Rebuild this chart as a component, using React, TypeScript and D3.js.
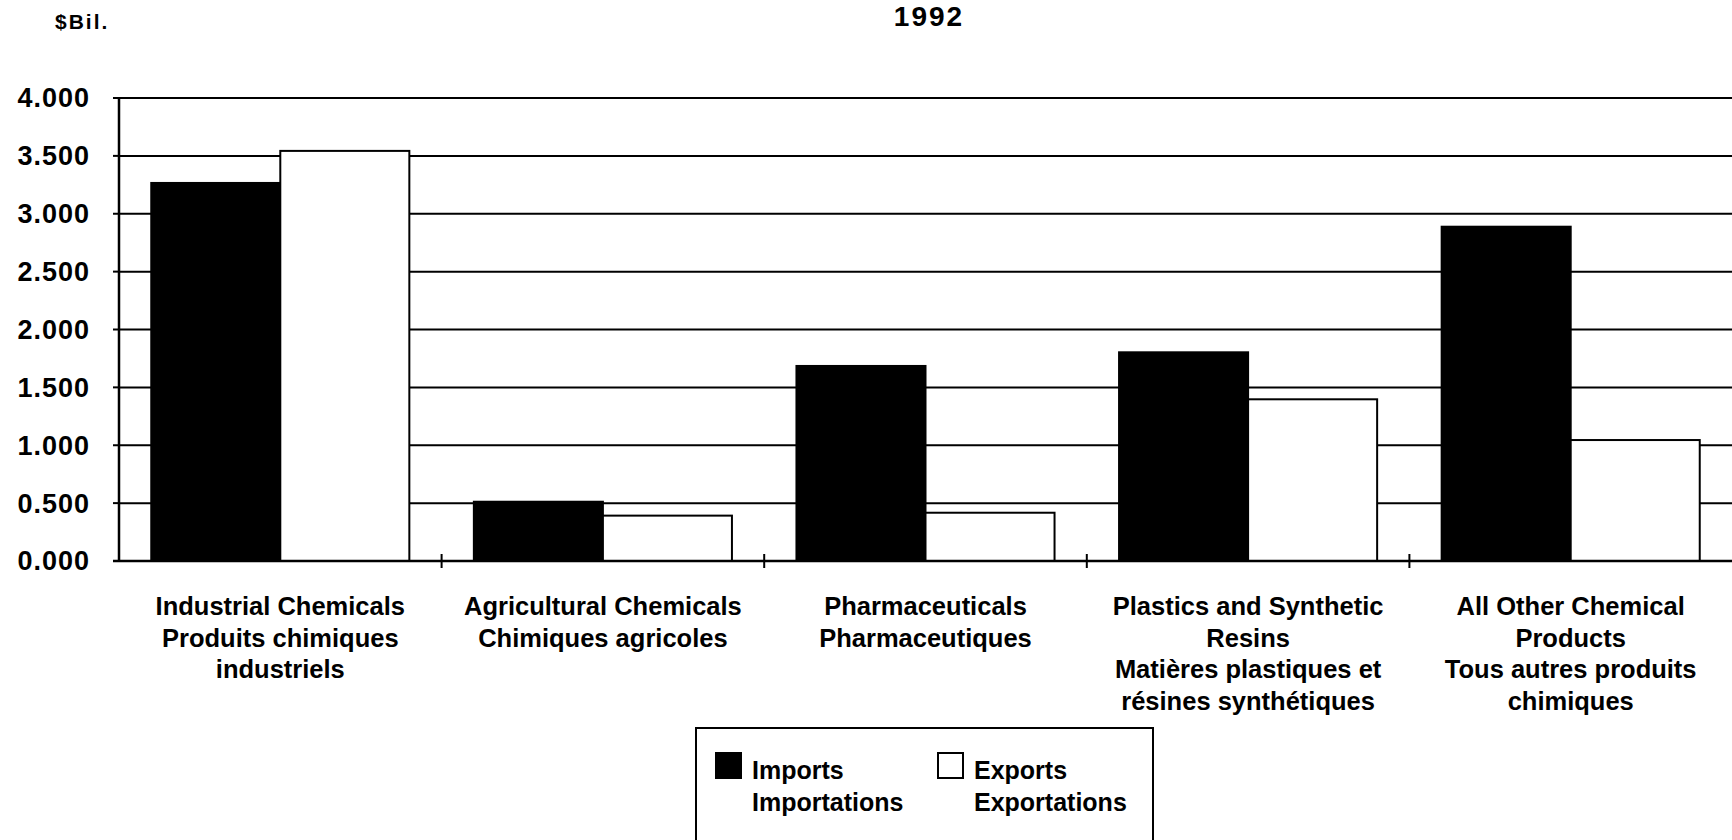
import React, { useEffect, useRef } from 'react';
import * as d3 from 'd3';

const categories = ['Industrial', 'Agricultural', 'Pharma', 'Plastics', 'Other'];
const categoryLabels = [
  ['Industrial Chemicals', 'Produits chimiques', 'industriels'],
  ['Agricultural Chemicals', 'Chimiques agricoles'],
  ['Pharmaceuticals', 'Pharmaceutiques'],
  ['Plastics and Synthetic', 'Resins', 'Matières plastiques et', 'résines synthétiques'],
  ['All Other Chemical', 'Products', 'Tous autres produits', 'chimiques'],
];
const series = ['Imports', 'Exports'];
const importValues = [3.266, 0.512, 1.685, 1.803, 2.888];
const exportValues = [3.543, 0.392, 0.417, 1.397, 1.045];
const yTicks = [0, 0.5, 1, 1.5, 2, 2.5, 3, 3.5, 4];
const legendLabels = [
  ['Imports', 'Importations'],
  ['Exports', 'Exportations'],
];

const W = 1732, H = 840;
const FONT = '"Liberation Sans", Arial, Helvetica, sans-serif';

const App = () => {
  const ref = useRef<SVGSVGElement>(null);

  useEffect(() => {
    const svg = d3.select(ref.current);
    svg.selectAll('*').remove();

    const left = 119, right = 1732, top = 98, bottom = 561;

    const x = d3.scaleBand().domain(categories).range([left, right]);
    const bw = x.bandwidth();
    const x1 = d3.scaleBand().domain(series).range([bw * 0.1, bw * 0.9]);
    const y = d3.scaleLinear().domain([0, 4]).range([bottom, top]);

    svg.append('rect').attr('width', W).attr('height', H).attr('fill', '#fff');

    // gridlines
    svg.append('g')
      .selectAll('line')
      .data(yTicks.filter(d => d > 0))
      .join('line')
      .attr('x1', left).attr('x2', right)
      .attr('y1', d => y(d)).attr('y2', d => y(d))
      .attr('stroke', '#000').attr('stroke-width', 2);

    // bars
    const rows = categories.map((c, i) => ({ c, v: [importValues[i], exportValues[i]] }));
    const groups = svg.append('g')
      .selectAll('g')
      .data(rows)
      .join('g')
      .attr('transform', d => `translate(${x(d.c)},0)`);

    groups.selectAll('rect')
      .data(d => series.map((s, j) => ({ s, v: d.v[j] })))
      .join('rect')
      .attr('x', d => x1(d.s)!)
      .attr('width', x1.bandwidth())
      .attr('y', d => y(d.v))
      .attr('height', d => y(0) - y(d.v))
      .attr('fill', d => (d.s === 'Imports' ? '#000' : '#fff'))
      .attr('stroke', '#000')
      .attr('stroke-width', 2);

    // axes
    svg.append('line')
      .attr('x1', left).attr('x2', left).attr('y1', top).attr('y2', bottom)
      .attr('stroke', '#000').attr('stroke-width', 2.5);
    svg.append('line')
      .attr('x1', left - 6).attr('x2', right).attr('y1', bottom).attr('y2', bottom)
      .attr('stroke', '#000').attr('stroke-width', 2.5);

    svg.append('g')
      .selectAll('line')
      .data(yTicks)
      .join('line')
      .attr('x1', left - 6).attr('x2', left)
      .attr('y1', d => y(d)).attr('y2', d => y(d))
      .attr('stroke', '#000').attr('stroke-width', 2);

    svg.append('g')
      .selectAll('text')
      .data(yTicks)
      .join('text')
      .attr('x', 90)
      .attr('y', d => y(d))
      .attr('dy', '0.35em')
      .attr('text-anchor', 'end')
      .attr('font-family', FONT)
      .attr('font-weight', 'bold')
      .attr('font-size', 27)
      .attr('letter-spacing', 1)
      .text(d => d3.format('.3f')(d));

    // category separators
    svg.append('g')
      .selectAll('line')
      .data(categories.slice(1))
      .join('line')
      .attr('x1', d => x(d)!).attr('x2', d => x(d)!)
      .attr('y1', bottom - 7).attr('y2', bottom + 7)
      .attr('stroke', '#000').attr('stroke-width', 2);

    // category labels
    const lab = svg.append('g')
      .selectAll('text')
      .data(categories)
      .join('text')
      .attr('x', d => x(d)! + bw / 2)
      .attr('y', 615)
      .attr('text-anchor', 'middle')
      .attr('font-family', FONT)
      .attr('font-weight', 'bold')
      .attr('font-size', 25.5);
    lab.each(function (d, i) {
      const t = d3.select(this);
      categoryLabels[i].forEach((line, k) => {
        t.append('tspan')
          .attr('x', x(d)! + bw / 2)
          .attr('y', 615 + k * 31.5)
          .text(line);
      });
    });

    // titles
    svg.append('text')
      .attr('x', 55).attr('y', 29)
      .attr('font-family', FONT).attr('font-weight', 'bold').attr('font-size', 21)
      .attr('letter-spacing', 2)
      .text('$Bil.');
    svg.append('text')
      .attr('x', 929).attr('y', 26)
      .attr('text-anchor', 'middle')
      .attr('font-family', FONT).attr('font-weight', 'bold').attr('font-size', 28)
      .attr('letter-spacing', 2)
      .text('1992');

    // legend
    const lg = svg.append('g');
    lg.append('rect')
      .attr('x', 696).attr('y', 728).attr('width', 457).attr('height', 140)
      .attr('fill', '#fff').attr('stroke', '#000').attr('stroke-width', 2);
    const items = lg.selectAll('g')
      .data(series)
      .join('g')
      .attr('transform', (d, i) => `translate(${i === 0 ? 716 : 938},0)`);
    items.append('rect')
      .attr('x', 0).attr('y', 753).attr('width', 25).attr('height', 25)
      .attr('fill', d => (d === 'Imports' ? '#000' : '#fff'))
      .attr('stroke', '#000').attr('stroke-width', 2);
    items.append('text')
      .attr('font-family', FONT).attr('font-weight', 'bold').attr('font-size', 25)
      .each(function (d, i) {
        const t = d3.select(this);
        legendLabels[i].forEach((line, k) => {
          t.append('tspan').attr('x', 36).attr('y', 779 + k * 32).text(line);
        });
      });
  }, []);

  return (
    <svg
      ref={ref}
      width={W}
      height={H}
      style={{ position: 'absolute', left: 0, top: 0, display: 'block' }}
    />
  );
};

export default App;
